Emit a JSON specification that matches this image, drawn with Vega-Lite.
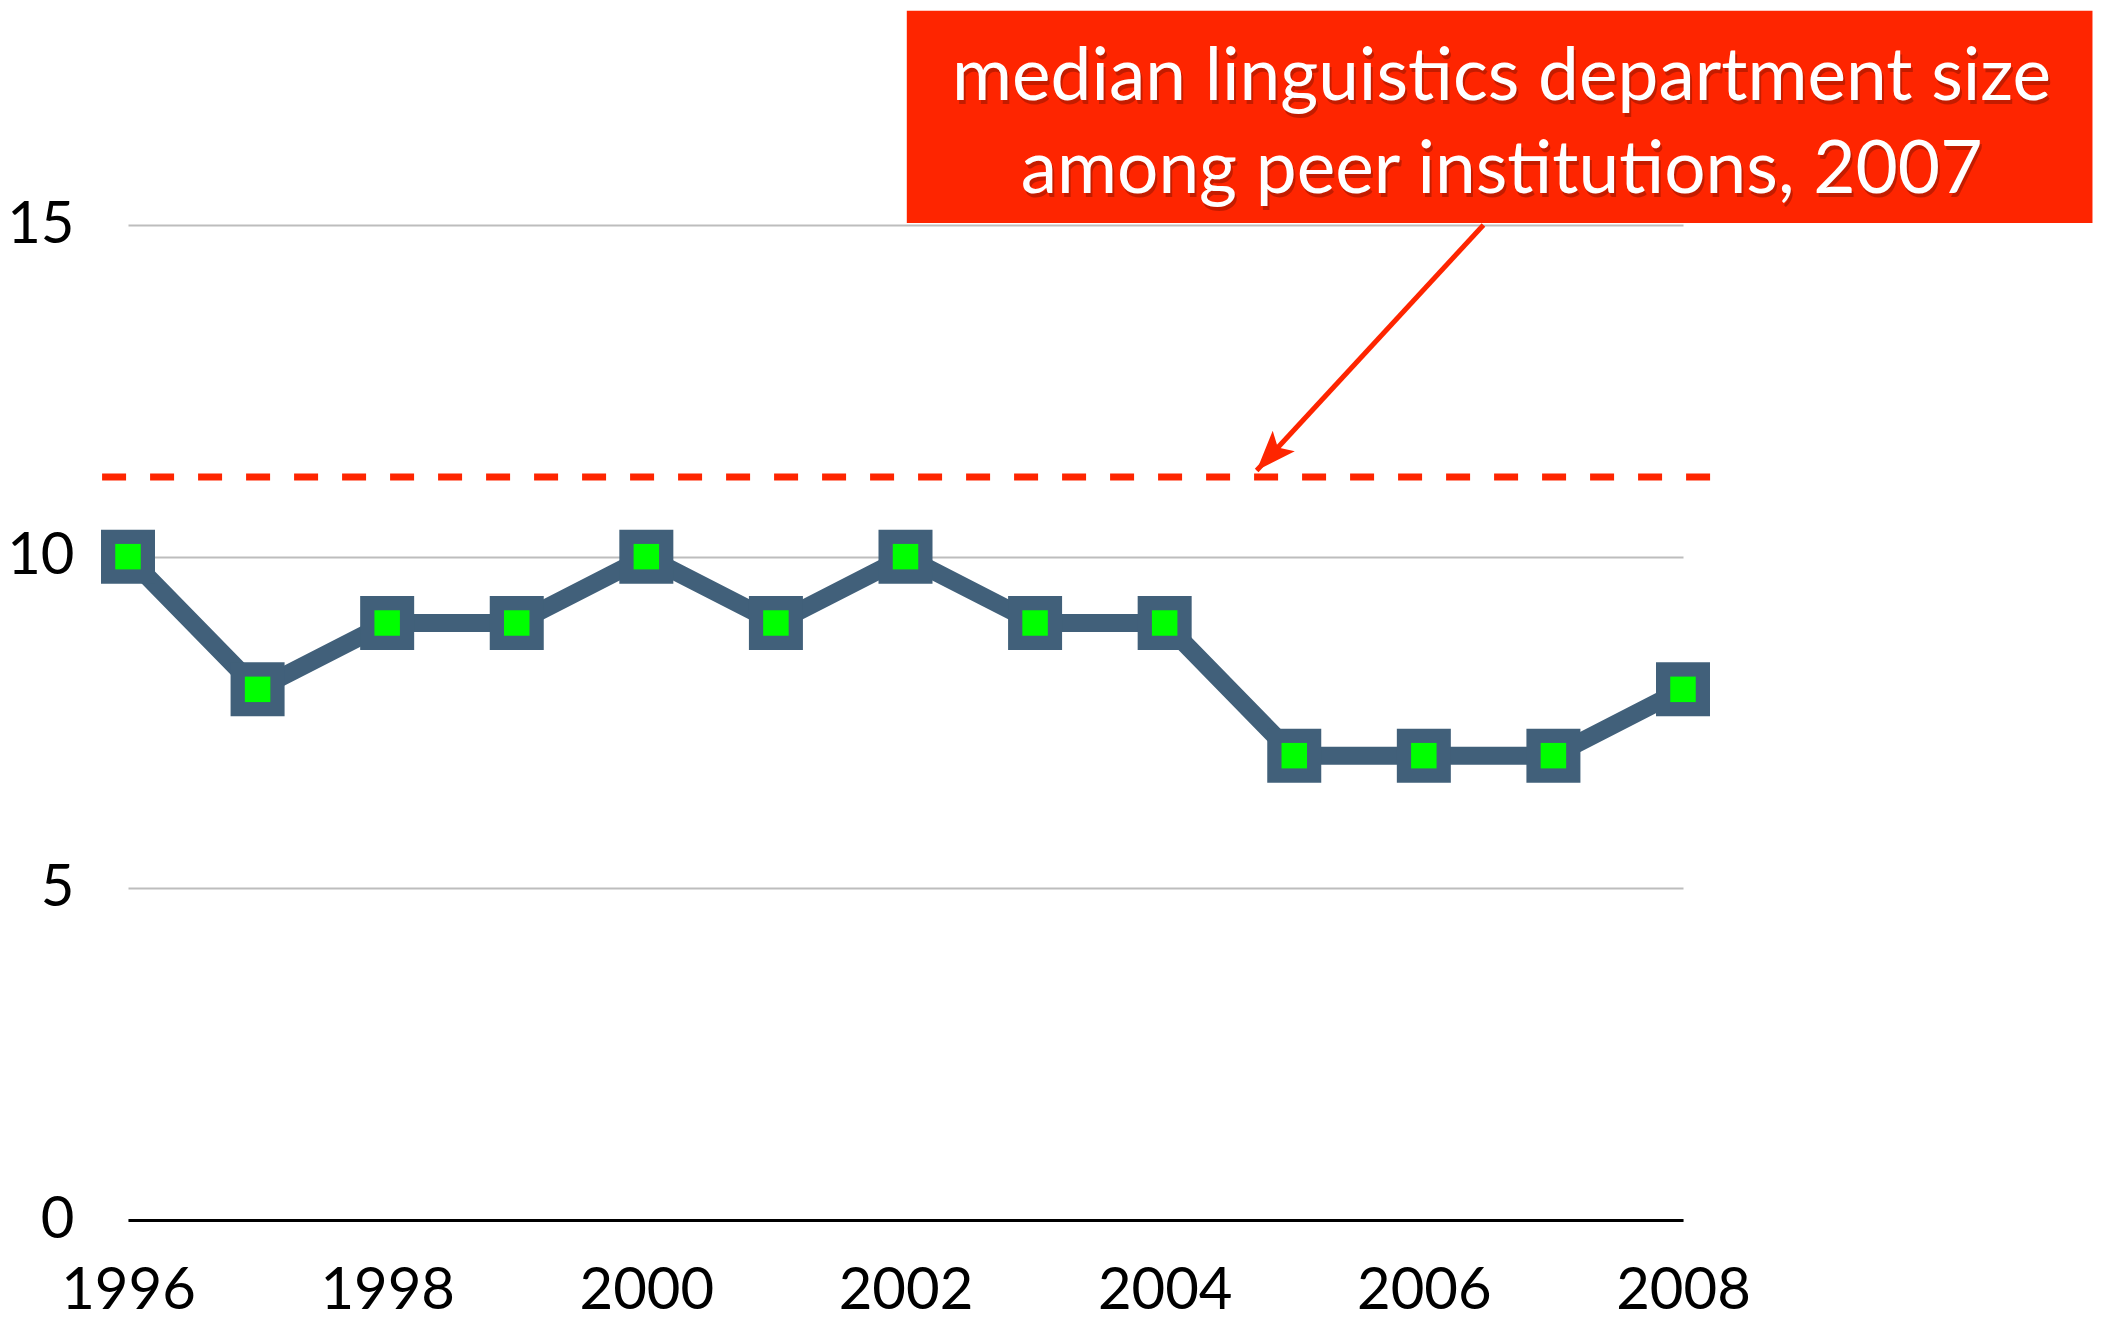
{
  "$schema": "https://vega.github.io/schema/vega-lite/v6.json",
  "width": 1555,
  "height": 995,
  "autosize": {"type": "none"},
  "padding": {"left": 128, "top": 225, "right": 425, "bottom": 99},
  "background": "white",
  "config": {"view": {"stroke": null}, "font": "Lato"},
  "datasets": {
    "series": [
      {"year": 1996, "size": 10},
      {"year": 1997, "size": 8},
      {"year": 1998, "size": 9},
      {"year": 1999, "size": 9},
      {"year": 2000, "size": 10},
      {"year": 2001, "size": 9},
      {"year": 2002, "size": 10},
      {"year": 2003, "size": 9},
      {"year": 2004, "size": 9},
      {"year": 2005, "size": 7},
      {"year": 2006, "size": 7},
      {"year": 2007, "size": 7},
      {"year": 2008, "size": 8}
    ],
    "median": [{"start": 1995.8, "end": 2008.24, "value": 11.2}],
    "box": [{"x1": 2002.01, "x2": 2011.16, "y1": 15.03, "y2": 18.23}],
    "label": [
      {"year": 2006.6, "y": 16.885, "text": "median linguistics department size"},
      {"year": 2006.6, "y": 15.48, "text": "among peer institutions, 2007"}
    ],
    "arrow": [{"x1": 2006.46, "y1": 15.0, "x2": 2004.71, "y2": 11.3}]
  },
  "layer": [
    {
      "data": {"name": "series"},
      "mark": {"type": "line", "color": "#41607a", "strokeWidth": 18},
      "encoding": {
        "x": {
          "field": "year", "type": "quantitative",
          "scale": {"domain": [1996, 2008], "nice": false, "zero": false},
          "axis": {
            "values": [1996, 1998, 2000, 2002, 2004, 2006, 2008],
            "format": "d", "title": null, "grid": false, "ticks": false,
            "domain": true, "domainColor": "black", "domainWidth": 3,
            "labelFontSize": 58, "labelColor": "black", "labelPadding": 42,
            "labelFlush": false, "labelOverlap": false, "labelBound": false
          }
        },
        "y": {
          "field": "size", "type": "quantitative",
          "scale": {"domain": [0, 15], "nice": false},
          "axis": {
            "values": [0, 5, 10, 15], "format": "d", "title": null, "grid": true,
            "gridColor": "#bdbdbd", "gridWidth": 2, "ticks": false, "domain": false,
            "labelFontSize": 58, "labelColor": "black", "labelPadding": 54,
            "labelFlush": false, "labelOverlap": false, "labelBound": false
          }
        }
      }
    },
    {
      "data": {"name": "box"},
      "mark": {"type": "rect", "color": "#fe2500"},
      "encoding": {
        "x": {"field": "x1", "type": "quantitative", "scale": {"domain": [1996, 2008], "nice": false, "zero": false}, "axis": {"title": null, "format": "d"}},
        "x2": {"field": "x2"},
        "y": {"field": "y1", "type": "quantitative", "scale": {"domain": [0, 15], "nice": false}, "axis": {"title": null, "format": "d"}},
        "y2": {"field": "y2"}
      }
    },
    {
      "data": {"name": "series"},
      "mark": {"type": "point", "shape": "square", "filled": true, "opacity": 1, "size": 2916, "color": "#41607a"},
      "encoding": {
        "x": {"field": "year", "type": "quantitative", "scale": {"domain": [1996, 2008], "nice": false, "zero": false}, "axis": {"title": null, "format": "d"}},
        "y": {"field": "size", "type": "quantitative", "scale": {"domain": [0, 15], "nice": false}, "axis": {"title": null, "format": "d"}}
      }
    },
    {
      "data": {"name": "series"},
      "mark": {"type": "point", "shape": "square", "filled": true, "opacity": 1, "size": 650, "color": "#00ff00"},
      "encoding": {
        "x": {"field": "year", "type": "quantitative", "scale": {"domain": [1996, 2008], "nice": false, "zero": false}, "axis": {"title": null, "format": "d"}},
        "y": {"field": "size", "type": "quantitative", "scale": {"domain": [0, 15], "nice": false}, "axis": {"title": null, "format": "d"}}
      }
    },
    {
      "data": {"name": "median"},
      "mark": {"type": "rule", "color": "#fe2500", "strokeWidth": 7, "strokeDash": [24, 24]},
      "encoding": {
        "x": {"field": "start", "type": "quantitative", "scale": {"domain": [1996, 2008], "nice": false, "zero": false}, "axis": {"title": null, "format": "d"}},
        "x2": {"field": "end"},
        "y": {"field": "value", "type": "quantitative", "scale": {"domain": [0, 15], "nice": false}, "axis": {"title": null, "format": "d"}}
      }
    },
    {
      "data": {"name": "label"},
      "mark": {"type": "text", "align": "center", "baseline": "alphabetic", "fontSize": 73, "color": "#8a1500", "opacity": 0.5, "dx": 2, "dy": 4},
      "encoding": {
        "x": {"field": "year", "type": "quantitative", "scale": {"domain": [1996, 2008], "nice": false, "zero": false}, "axis": {"title": null, "format": "d"}},
        "y": {"field": "y", "type": "quantitative", "scale": {"domain": [0, 15], "nice": false}, "axis": {"title": null, "format": "d"}},
        "text": {"field": "text"}
      }
    },
    {
      "data": {"name": "label"},
      "mark": {"type": "text", "align": "center", "baseline": "alphabetic", "fontSize": 73, "color": "white"},
      "encoding": {
        "x": {"field": "year", "type": "quantitative", "scale": {"domain": [1996, 2008], "nice": false, "zero": false}, "axis": {"title": null, "format": "d"}},
        "y": {"field": "y", "type": "quantitative", "scale": {"domain": [0, 15], "nice": false}, "axis": {"title": null, "format": "d"}},
        "text": {"field": "text"}
      }
    },
    {
      "data": {"name": "arrow"},
      "mark": {"type": "rule", "color": "#fe2500", "strokeWidth": 5},
      "encoding": {
        "x": {"field": "x1", "type": "quantitative", "scale": {"domain": [1996, 2008], "nice": false, "zero": false}, "axis": {"title": null, "format": "d"}},
        "x2": {"field": "x2"},
        "y": {"field": "y1", "type": "quantitative", "scale": {"domain": [0, 15], "nice": false}, "axis": {"title": null, "format": "d"}},
        "y2": {"field": "y2"}
      }
    },
    {
      "data": {"name": "arrow"},
      "mark": {"type": "point", "shape": "M0,0L0.6,1.6L0,1.25L-0.6,1.6Z", "filled": true, "opacity": 1, "size": 2500, "angle": 222.6, "color": "#fe2500"},
      "encoding": {
        "x": {"field": "x2", "type": "quantitative", "scale": {"domain": [1996, 2008], "nice": false, "zero": false}, "axis": {"title": null, "format": "d"}},
        "y": {"field": "y2", "type": "quantitative", "scale": {"domain": [0, 15], "nice": false}, "axis": {"title": null, "format": "d"}}
      }
    }
  ]
}
